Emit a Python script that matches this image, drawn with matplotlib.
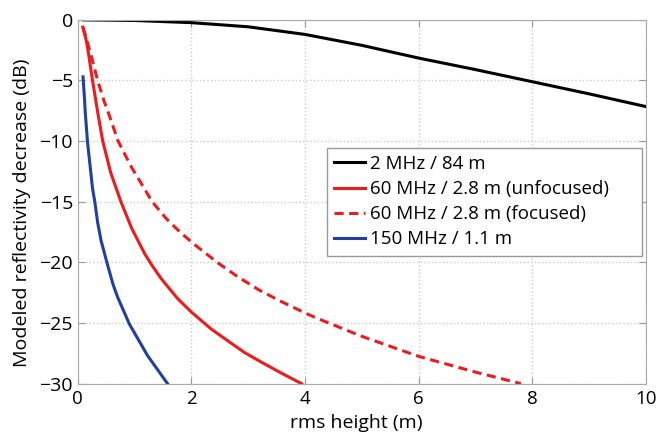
import matplotlib
matplotlib.use('Agg')
import matplotlib.pyplot as plt

plt.rcParams['font.family'] = ['Open Sans', 'DejaVu Sans']

# values
x_2mhz = [0.1, 1, 2, 3, 4, 5, 6, 7, 8, 9, 10]
y_2mhz = [0, -0.05, -0.23, -0.57, -1.2, -2.1, -3.15, -4.1, -5.1, -6.1, -7.15]

x_60u = [0.09, 0.14, 0.18, 0.26, 0.35, 0.44, 0.58, 0.76, 0.95, 1.18, 1.30, 1.47,
         1.76, 2.0, 2.35, 2.65, 2.94, 3.24, 3.59, 3.94]
y_60u = [-0.6, -1.5, -2.5, -5, -7.6, -10, -12.6, -15, -17.2, -19.3, -20.2, -21.35,
         -23.0, -24.1, -25.5, -26.5, -27.45, -28.25, -29.15, -30]

x_60f = [0.09, 0.21, 0.35, 0.47, 0.52, 0.71, 0.94, 1.31, 1.56, 1.80, 2.06, 2.47,
         2.82, 3.2, 3.59, 4.06, 4.26, 5.0, 6.0, 7.0, 7.8]
y_60f = [-0.6, -2.5, -5, -6.8, -7.4, -10, -12.1, -15, -16.4, -17.5, -18.55, -20.05,
         -21.2, -22.3, -23.25, -24.3, -24.7, -26.1, -27.75, -29.05, -30]

x_150 = [0.093, 0.12, 0.13, 0.17, 0.26, 0.30, 0.35, 0.41, 0.53, 0.62, 0.70, 0.91,
         1.23, 1.58]
y_150 = [-4.7, -6.6, -7.5, -10, -13.9, -15, -16.7, -18.2, -20.3, -21.8, -22.85, -25.1,
         -27.7, -30]

labels = ['2 MHz / 84 m', '60 MHz / 2.8 m (unfocused)',
          '60 MHz / 2.8 m (focused)', '150 MHz / 1.1 m']

fig = plt.figure(figsize=(6.59, 4.32), dpi=100)
ax = fig.add_axes([0.118, 0.112, 0.862, 0.842])

ax.plot(x_2mhz, y_2mhz, color='black', lw=2.2, label=labels[0])
ax.plot(x_60u, y_60u, color='#ec1c1c', lw=2.2, label=labels[1])
ax.plot(x_60f, y_60f, color='#ec1c1c', lw=2.2, dashes=(3, 1.8), label=labels[2])
ax.plot(x_150, y_150, color='#20409c', lw=2.2, label=labels[3])

ax.set_xlim(0, 10)
ax.set_ylim(-30, 0)
ax.set_xticks([0, 2, 4, 6, 8, 10])
ax.set_yticks([0, -5, -10, -15, -20, -25, -30])
ax.set_yticklabels(['0', '\u22125', '\u221210', '\u221215', '\u221220', '\u221225', '\u221230'])
ax.tick_params(direction='in', length=5, color='#999999', labelsize=14,
               top=True, right=True)
ax.tick_params(axis='x', pad=4.5, labelsize=13.5)
ax.tick_params(axis='y', pad=3.5)
for s in ax.spines.values():
    s.set_color('#aaaaaa')
ax.grid(True, linestyle=':', color='#cccccc', lw=1)

ax.set_xlabel('rms height (m)', fontsize=14)
ax.set_ylabel('Modeled reflectivity decrease (dB)', fontsize=14)
ax.xaxis.set_label_coords(0.49, -0.083)
ax.yaxis.set_label_coords(-0.083, 0.469)

leg = ax.legend(loc='upper left', bbox_to_anchor=(0.438, 0.3, 0.555, 0.349),
                mode='expand', fontsize=13.5,
                fancybox=False, framealpha=1, edgecolor='#999999',
                handlelength=1.65, handletextpad=0.25, borderpad=0.4,
                labelspacing=0.38, borderaxespad=0)
leg.get_frame().set_linewidth(1)

fig.savefig('out.png', dpi=100)
